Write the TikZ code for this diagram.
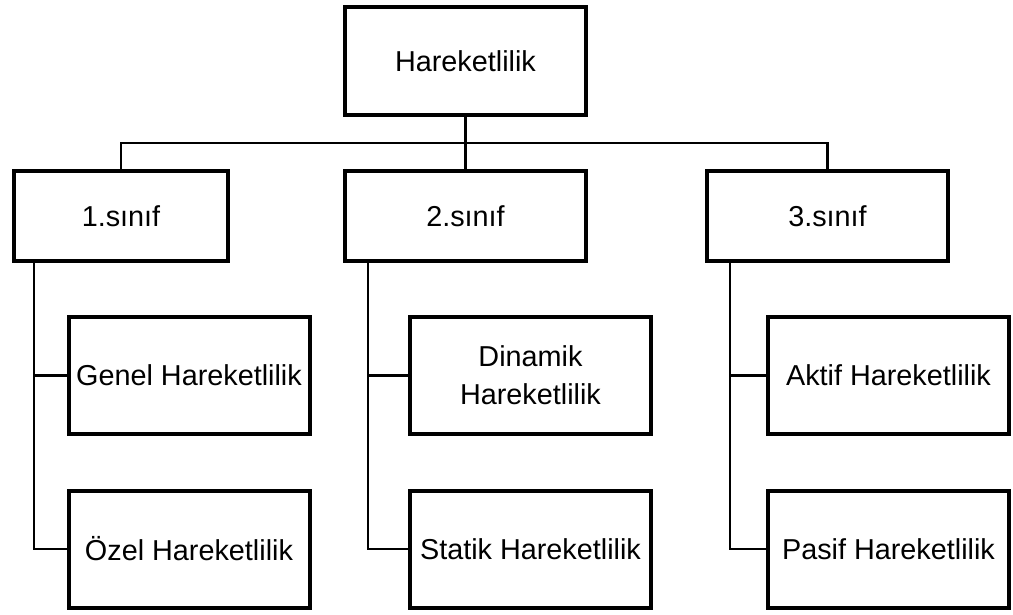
\documentclass[tikz,border=0pt]{standalone}
\usepackage{fontspec}
\setmainfont{Liberation Sans}
\begin{document}
\begin{tikzpicture}[x=1pt,y=-1pt,
  box/.style={draw=black,line width=4pt,fill=white,inner sep=2pt,align=center,
    font=\fontsize{28.8}{38}\selectfont},
  topbox/.style={box,minimum width=241pt,minimum height=108pt},
  clsbox/.style={box,minimum width=241pt,minimum height=90pt},
  leafbox/.style={box,minimum width=241pt,minimum height=117pt},
  link/.style={draw=black,line width=2.7pt}]
\fill[white] (0,0) rectangle (1013,615);
\useasboundingbox (0,0) rectangle (1013,615);
\node[topbox] (top) at (465.5,61) {Hareketlilik};
\node[clsbox,minimum width=214pt] (c1) at (121,216) {1.sınıf};
\node[clsbox] (c2) at (465.5,216) {2.sınıf};
\node[clsbox] (c3) at (827.5,216) {3.sınıf};
\node[leafbox] (g1) at (189,375.5) {Genel Hareketlilik};
\node[leafbox] (g2) at (189,549) {Özel Hareketlilik};
\node[leafbox] (d1) at (530.5,375.5) {Dinamik\\Hareketlilik};
\node[leafbox] (d2) at (530.5,549) {Statik Hareketlilik};
\node[leafbox] (a1) at (888.5,375.5) {Aktif Hareketlilik};
\node[leafbox] (a2) at (888.5,549) {Pasif Hareketlilik};
\coordinate (bus) at (465.5,143);
\draw[link] (top.south) -- (bus);
\draw[link] (c1.north) |- (bus) -| (c3.north);
\draw[link] (bus) -- (c2.north);
\coordinate (s1) at ([xshift=22pt]c1.south west);
\coordinate (s2) at ([xshift=25pt]c2.south west);
\coordinate (s3) at ([xshift=25pt]c3.south west);
\draw[link] (s1) |- (g1.west);
\draw[link] (s1) |- (g2.west);
\draw[link] (s2) |- (d1.west);
\draw[link] (s2) |- (d2.west);
\draw[link] (s3) |- (a1.west);
\draw[link] (s3) |- (a2.west);
\end{tikzpicture}
\end{document}
